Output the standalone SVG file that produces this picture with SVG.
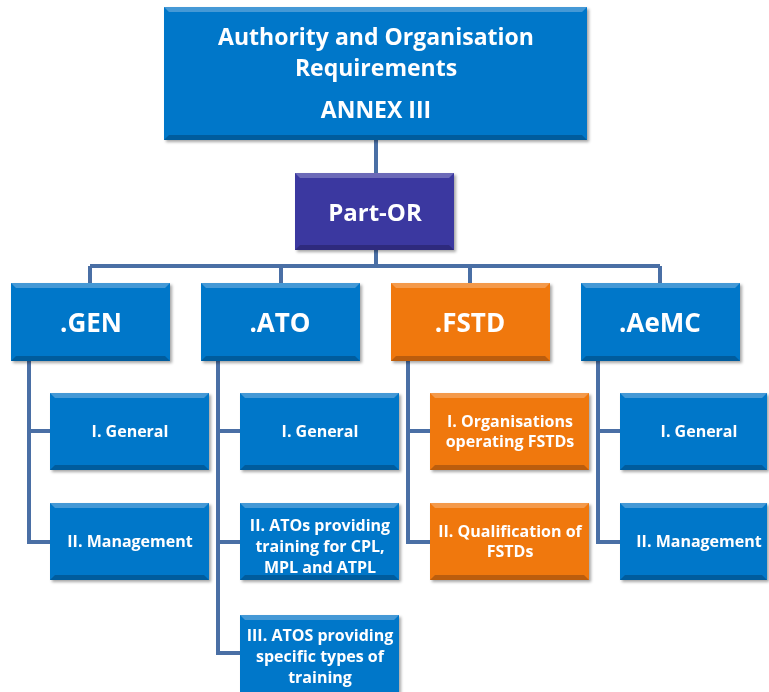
<svg xmlns="http://www.w3.org/2000/svg" width="769" height="692" viewBox="0 0 769 692">
<style>
.t{font-family:"Open Sans","Liberation Sans",sans-serif;font-weight:bold;fill:#fff;text-anchor:middle}
.big{font-size:23px}
.po{font-size:24px}
.mid{font-size:26px}
.sm{font-size:16px}
.con{fill:none;stroke:#4A6FA5;stroke-width:4}
.hi{fill:#fff;opacity:0.25}
.lo{fill:#000;opacity:0.22}
</style>
<defs>
<filter id="sh" x="-10%" y="-10%" width="130%" height="130%">
<feDropShadow dx="2" dy="2" stdDeviation="1.5" flood-color="#000" flood-opacity="0.35"/>
</filter>
</defs>
<g id="connectors">
<path class="con" d="M376 140V173M376 250V266M90 266H660M90 266V283M281 266V283M470 266V283M660 266V283"/>
<path class="con" d="M29 361V542H50M29 431H50"/>
<path class="con" d="M218 361V653H240M218 431H240M218 542H240"/>
<path class="con" d="M408 361V542H430M408 431H430"/>
<path class="con" d="M598 361V542H620M598 431H620"/>
</g>
<g id="annex" filter="url(#sh)">
<rect x="164" y="7" width="423" height="133" fill="#0677C9"/>
<polygon class="hi" points="164,7 587,7 582,12 169,12"/>
<polygon class="lo" points="164,140 587,140 582,135 169,135"/>
<text class="t big" x="376" y="45">Authority and Organisation</text>
<text class="t big" x="376" y="76">Requirements</text>
<text class="t big" x="376" y="118">ANNEX III</text>
</g>
<g id="partor" filter="url(#sh)">
<rect x="295" y="173" width="159" height="77" fill="#3B39A0"/>
<polygon class="hi" points="295,173 454,173 449,178 300,178"/>
<polygon class="lo" points="295,250 454,250 449,245 300,245"/>
<text class="t po" x="375" y="221">Part-OR</text>
</g>
<g id="gen" filter="url(#sh)">
<rect x="11" y="283" width="159" height="78" fill="#0677C9"/>
<polygon class="hi" points="11,283 170,283 165,288 16,288"/>
<polygon class="lo" points="11,361 170,361 165,356 16,356"/>
<text class="t mid" x="91" y="332">.GEN</text>
</g>
<g id="ato" filter="url(#sh)">
<rect x="201" y="283" width="159" height="78" fill="#0677C9"/>
<polygon class="hi" points="201,283 360,283 355,288 206,288"/>
<polygon class="lo" points="201,361 360,361 355,356 206,356"/>
<text class="t mid" x="280" y="332">.ATO</text>
</g>
<g id="fstd" filter="url(#sh)">
<rect x="391" y="283" width="159" height="78" fill="#F07810"/>
<polygon class="hi" points="391,283 550,283 545,288 396,288"/>
<polygon class="lo" points="391,361 550,361 545,356 396,356"/>
<text class="t mid" x="470" y="332">.FSTD</text>
</g>
<g id="aemc" filter="url(#sh)">
<rect x="581" y="283" width="159" height="78" fill="#0677C9"/>
<polygon class="hi" points="581,283 740,283 735,288 586,288"/>
<polygon class="lo" points="581,361 740,361 735,356 586,356"/>
<text class="t mid" x="660" y="332">.AeMC</text>
</g>
<g id="gen1" filter="url(#sh)">
<rect x="50" y="393" width="159" height="77" fill="#0677C9"/>
<polygon class="hi" points="50,393 209,393 204,398 55,398"/>
<polygon class="lo" points="50,470 209,470 204,465 55,465"/>
<text class="t sm" x="130" y="437">I. General</text>
</g>
<g id="gen2" filter="url(#sh)">
<rect x="50" y="503" width="159" height="77" fill="#0677C9"/>
<polygon class="hi" points="50,503 209,503 204,508 55,508"/>
<polygon class="lo" points="50,580 209,580 204,575 55,575"/>
<text class="t sm" x="130" y="547">II. Management</text>
</g>
<g id="ato1" filter="url(#sh)">
<rect x="240" y="393" width="159" height="77" fill="#0677C9"/>
<polygon class="hi" points="240,393 399,393 394,398 245,398"/>
<polygon class="lo" points="240,470 399,470 394,465 245,465"/>
<text class="t sm" x="320" y="437">I. General</text>
</g>
<g id="ato2" filter="url(#sh)">
<rect x="240" y="503" width="159" height="77" fill="#0677C9"/>
<polygon class="hi" points="240,503 399,503 394,508 245,508"/>
<polygon class="lo" points="240,580 399,580 394,575 245,575"/>
<text class="t sm" x="320" y="531">II. ATOs providing</text>
<text class="t sm" x="320" y="552">training for CPL,</text>
<text class="t sm" x="320" y="573">MPL and ATPL</text>
</g>
<g id="ato3" filter="url(#sh)">
<rect x="240" y="615" width="159" height="77" fill="#0677C9"/>
<polygon class="hi" points="240,615 399,615 394,620 245,620"/>
<text class="t sm" x="320" y="641">III. ATOS providing</text>
<text class="t sm" x="320" y="662">specific types of</text>
<text class="t sm" x="320" y="683">training</text>
</g>
<g id="fstd1" filter="url(#sh)">
<rect x="430" y="393" width="159" height="77" fill="#F07810"/>
<polygon class="hi" points="430,393 589,393 584,398 435,398"/>
<polygon class="lo" points="430,470 589,470 584,465 435,465"/>
<text class="t sm" x="510" y="427">I. Organisations</text>
<text class="t sm" x="510" y="447">operating FSTDs</text>
</g>
<g id="fstd2" filter="url(#sh)">
<rect x="430" y="503" width="159" height="77" fill="#F07810"/>
<polygon class="hi" points="430,503 589,503 584,508 435,508"/>
<polygon class="lo" points="430,580 589,580 584,575 435,575"/>
<text class="t sm" x="510" y="537">II. Qualification of</text>
<text class="t sm" x="510" y="557">FSTDs</text>
</g>
<g id="aemc1" filter="url(#sh)">
<rect x="620" y="393" width="147" height="77" fill="#0677C9"/>
<polygon class="hi" points="620,393 767,393 762,398 625,398"/>
<polygon class="lo" points="620,470 767,470 762,465 625,465"/>
<text class="t sm" x="699" y="437">I. General</text>
</g>
<g id="aemc2" filter="url(#sh)">
<rect x="620" y="503" width="147" height="77" fill="#0677C9"/>
<polygon class="hi" points="620,503 767,503 762,508 625,508"/>
<polygon class="lo" points="620,580 767,580 762,575 625,575"/>
<text class="t sm" x="699" y="547">II. Management</text>
</g>
</svg>
